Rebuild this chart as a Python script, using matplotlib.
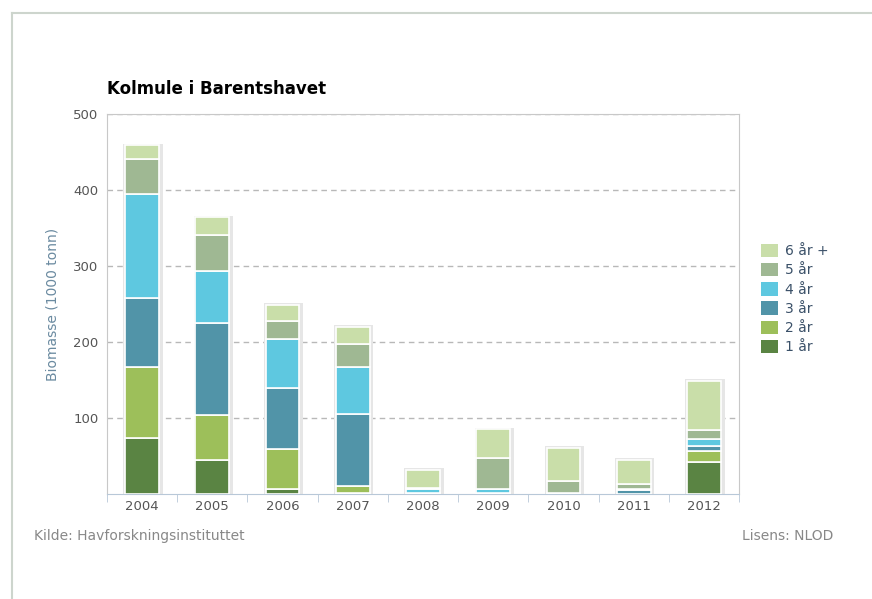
import matplotlib.pyplot as plt
import numpy as np

years = ["2004", "2005", "2006", "2007", "2008", "2009", "2010", "2011", "2012"]
labels = ["1 år", "2 år", "3 år", "4 år", "5 år", "6 år +"]
colors = ["#5a8443", "#9dbf5a", "#5194a8", "#5ec8e0", "#9fb893", "#c9dea9"]

aar1 = [74, 45, 7, 1, 0, 0, 0, 0, 42]
aar2 = [93, 59, 52, 9, 0, 0, 0, 0, 14]
aar3 = [91, 121, 81, 95, 1, 1, 1, 5, 7]
aar4 = [137, 69, 64, 62, 5, 5, 0, 2, 9]
aar5 = [46, 47, 24, 31, 2, 41, 16, 6, 12]
aar6 = [18, 23, 21, 22, 24, 38, 44, 32, 65]
series = [aar1, aar2, aar3, aar4, aar5, aar6]

plt.rcParams.update({"font.family": "DejaVu Sans", "font.size": 9.5})

fig = plt.figure(figsize=(8.72, 5.99), dpi=100)
ax = fig.add_axes([0.1227, 0.1753, 0.7248, 0.6344])

x = np.arange(len(years))
totals = np.sum(series, axis=0)

# soft shadow behind each stack
ax.bar(x + 0.015, totals + 3, width=0.56, bottom=-1, color="#e6e6e6", zorder=2)

bottom = np.zeros(len(years))
for vals, lab, col in zip(series, labels, colors):
    ax.bar(x, vals, width=0.48, bottom=bottom, color=col, label=lab,
           edgecolor="white", linewidth=1.2, zorder=3)
    bottom += np.array(vals)

ax.set_xlim(-0.5, len(years) - 0.5)
ax.set_ylim(0, 500)
ax.set_yticks([100, 200, 300, 400, 500])
ax.yaxis.grid(True, linestyle=(0, (4, 3)), color="#b8b8b8", linewidth=1)
ax.set_axisbelow(True)
ax.tick_params(axis="y", length=0, pad=6, colors="#555555")

ax.set_xticks(x)
ax.set_xticklabels(years)
ax.set_xticks(np.arange(len(years) + 1) - 0.5, minor=True)
ax.tick_params(axis="x", which="major", length=0, pad=4, colors="#555555")
ax.tick_params(axis="x", which="minor", length=6, color="#b8c8d8")

for side in ["left", "right", "top"]:
    ax.spines[side].set_color("#c8c8c8")
ax.spines["bottom"].set_color("#b8c8d8")

ax.set_ylabel("Biomasse (1000 tonn)", color="#6a8aa0", fontsize=10, labelpad=10)

handles, labs = ax.get_legend_handles_labels()
leg = ax.legend(handles[::-1], labs[::-1], loc="center left",
                bbox_to_anchor=(1.015, 0.513), frameon=False, fontsize=10,
                handlelength=1.2, handleheight=1.1, handletextpad=0.5,
                labelspacing=0.35, labelcolor="#3a5068")
for h in leg.legend_handles:
    h.set_edgecolor("none")

fig.text(107 / 872, 1 - 89 / 599, "Kolmule i Barentshavet", fontsize=12,
         fontweight="bold", va="center")
fig.text(34 / 872, 1 - 536 / 599, "Kilde: Havforskningsinstituttet",
         color="#888888", fontsize=10, va="center")
fig.text(833 / 872, 1 - 536 / 599, "Lisens: NLOD", color="#888888",
         fontsize=10, va="center", ha="right")

# outer frame
fig.add_artist(plt.Line2D([12 / 872, 1], [1 - 13 / 599] * 2,
                          color="#cdd5cd", linewidth=1.5))
fig.add_artist(plt.Line2D([12 / 872] * 2, [0, 1 - 13 / 599],
                          color="#cdd5cd", linewidth=1.5))

fig.savefig("out.png", dpi=100)
